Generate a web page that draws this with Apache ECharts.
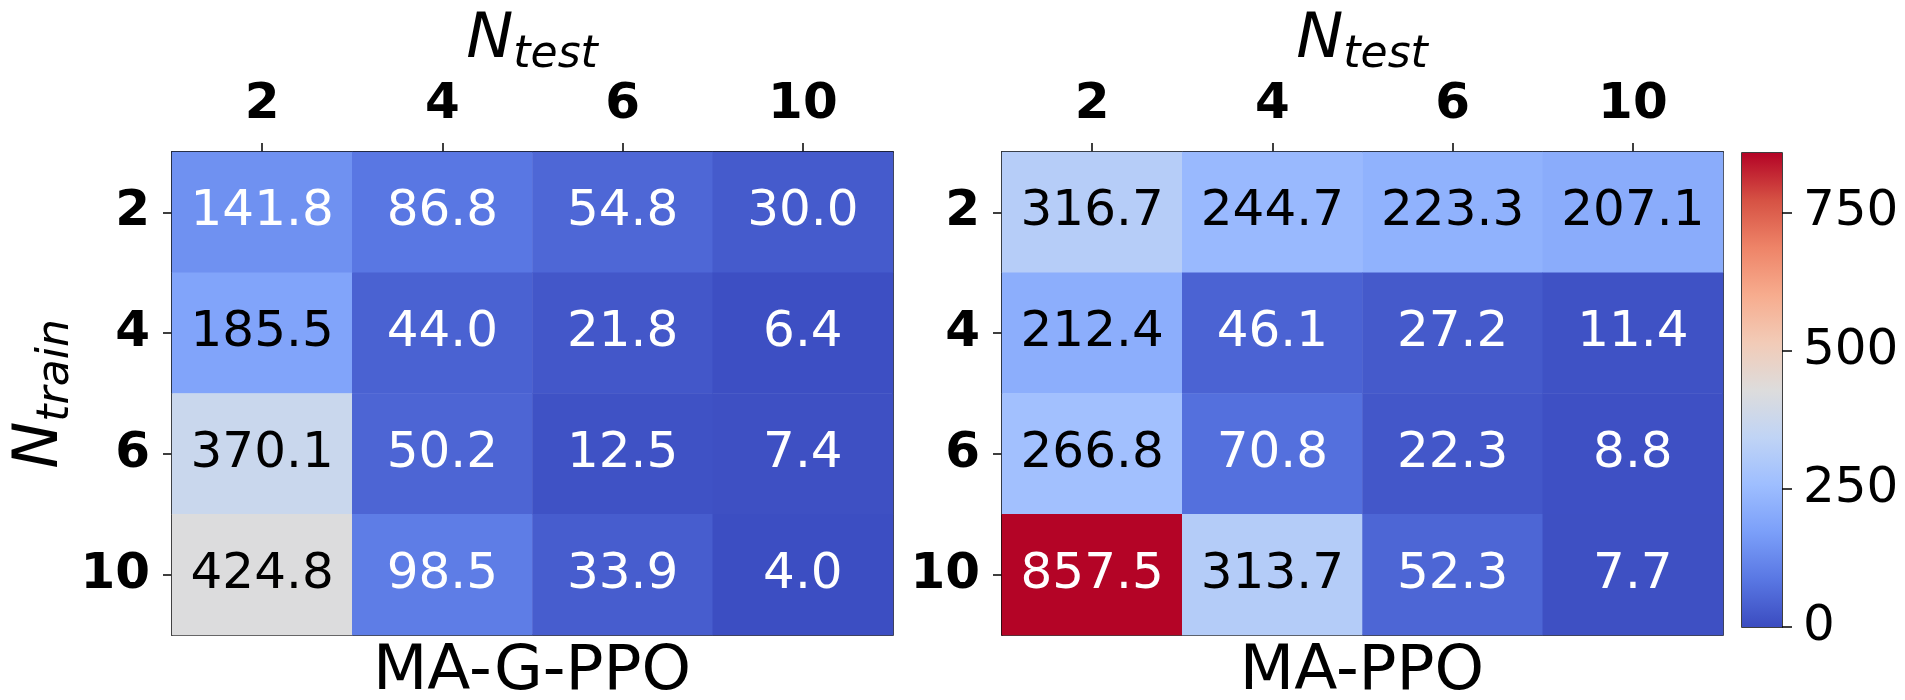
<!DOCTYPE html>
<html>
<head>
<meta charset="utf-8">
<script src="https://cdn.jsdelivr.net/npm/echarts@6/dist/echarts.min.js"></script>
<style>
  html, body { margin: 0; padding: 0; background: #ffffff; }
  #chart { width: 1905px; height: 700px; }
</style>
</head>
<body>
<div id="chart"></div>
<script>
// ---- data ----
const nTest = ['2', '4', '6', '10'];
const nTrain = ['2', '4', '6', '10'];
const maGPPO = [
  [141.8, 86.8, 54.8, 30.0],
  [185.5, 44.0, 21.8, 6.4],
  [370.1, 50.2, 12.5, 7.4],
  [424.8, 98.5, 33.9, 4.0]
];
const maPPO = [
  [316.7, 244.7, 223.3, 207.1],
  [212.4, 46.1, 27.2, 11.4],
  [266.8, 70.8, 22.3, 8.8],
  [857.5, 313.7, 52.3, 7.7]
];
const panelTitles = ['MA-G-PPO', 'MA-PPO'];
const colorbarTicks = [0, 250, 500, 750];
const vMin = 0;
const vMax = 857.5;

// ---- style ----
const coolwarm = ['#3b4cc0', '#5977e3', '#7b9ff9', '#9ebeff', '#c0d4f5', '#dddcdc',
                  '#f2cbb7', '#f7ac8e', '#ee8468', '#d65244', '#b40426'];
const FONT = 'DejaVu Sans';

function hexToRgb(h) {
  return [parseInt(h.slice(1, 3), 16), parseInt(h.slice(3, 5), 16), parseInt(h.slice(5, 7), 16)];
}
function cmap(v) {
  let t = (v - vMin) / (vMax - vMin);
  t = Math.max(0, Math.min(1, t));
  const p = t * (coolwarm.length - 1);
  const i = Math.min(Math.floor(p), coolwarm.length - 2);
  const f = p - i;
  const a = hexToRgb(coolwarm[i]), b = hexToRgb(coolwarm[i + 1]);
  return a.map((c, k) => c + (b[k] - c) * f);
}
function lum(rgb) {
  const l = rgb.map(c => {
    c = c / 255;
    return c <= 0.03928 ? c / 12.92 : Math.pow((c + 0.055) / 1.055, 2.4);
  });
  return 0.2126 * l[0] + 0.7152 * l[1] + 0.0722 * l[2];
}
function buildData(mat) {
  const out = [];
  mat.forEach((row, yi) => row.forEach((v, xi) => {
    out.push({
      value: [xi, yi, v],
      label: { color: lum(cmap(v)) > 0.34 ? '#000000' : '#ffffff' }
    });
  }));
  return out;
}

const grids = [
  { left: 172, top: 152, width: 721, height: 483 },
  { left: 1002, top: 152, width: 721, height: 483 },
  { left: 1742, top: 153, width: 40, height: 474 }
];
grids.forEach(g => { g.show = true; g.borderColor = '#000'; g.borderWidth = 1.5; g.backgroundColor = 'transparent'; });

const tickStyle = { show: true, length: 9, lineStyle: { color: '#000', width: 1.5 } };
const boldLabel = { fontSize: 50, fontWeight: 'bold', fontFamily: FONT, color: '#000' };

function heatX(i) {
  return {
    type: 'category', gridIndex: i, position: 'top', data: nTest,
    axisLine: { show: true, lineStyle: { color: '#000', width: 1.5 } },
    axisTick: Object.assign({ alignWithLabel: true }, tickStyle),
    axisLabel: Object.assign({ margin: 22 }, boldLabel),
    splitLine: { show: false }, splitArea: { show: false }
  };
}
function heatY(i) {
  return {
    type: 'category', gridIndex: i, inverse: true, data: nTrain,
    axisLine: { show: true, lineStyle: { color: '#000', width: 1.5 } },
    axisTick: Object.assign({ alignWithLabel: true }, tickStyle),
    axisLabel: Object.assign({ margin: 22 }, boldLabel),
    splitLine: { show: false }, splitArea: { show: false }
  };
}

const cbStops = coolwarm.map((c, i) => ({ offset: i / (coolwarm.length - 1), color: c }));

const labelCommon = {
  show: true, fontSize: 50, fontFamily: FONT,
  formatter: p => p.value[2].toFixed(1)
};

const richN = {
  n: { fontSize: 63, fontStyle: 'italic', fontFamily: FONT, fill: '#000', verticalAlign: 'bottom', padding: [0, 0, 6, 0] },
  s: { fontSize: 44, fontStyle: 'italic', fontFamily: FONT, fill: '#000', verticalAlign: 'bottom' }
};

const option = {
  animation: false,
  backgroundColor: '#ffffff',
  grid: grids,
  xAxis: [
    heatX(0), heatX(1),
    { type: 'category', gridIndex: 2, data: ['cb'], show: false }
  ],
  yAxis: [
    heatY(0), heatY(1),
    {
      type: 'value', gridIndex: 2, position: 'right', min: vMin, max: vMax, interval: 250,
      axisLine: { show: false },
      axisTick: { show: true, length: 10, customValues: colorbarTicks, lineStyle: { color: '#000', width: 1.5 } },
      axisLabel: { margin: 21, fontSize: 50, fontFamily: FONT, color: '#000', customValues: colorbarTicks },
      splitLine: { show: false }
    }
  ],
  visualMap: {
    show: false, type: 'continuous', min: vMin, max: vMax, seriesIndex: [0, 1],
    inRange: { color: coolwarm }
  },
  series: [
    { type: 'heatmap', xAxisIndex: 0, yAxisIndex: 0, data: buildData(maGPPO), label: labelCommon, itemStyle: { borderWidth: 0 } },
    { type: 'heatmap', xAxisIndex: 1, yAxisIndex: 1, data: buildData(maPPO), label: labelCommon, itemStyle: { borderWidth: 0 } },
    {
      type: 'bar', xAxisIndex: 2, yAxisIndex: 2, data: [vMax], barWidth: '100%', silent: true,
      itemStyle: { color: new echarts.graphic.LinearGradient(0, 1, 0, 0, cbStops) }
    }
  ],
  graphic: [
    { type: 'text', x: 532, y: 78, style: { text: '{n|N}{s|test}', rich: richN, align: 'center', verticalAlign: 'bottom' } },
    { type: 'text', x: 1362, y: 78, style: { text: '{n|N}{s|test}', rich: richN, align: 'center', verticalAlign: 'bottom' } },
    { type: 'text', x: 44, y: 394, rotation: Math.PI / 2, style: { text: '{n|N}{s|train}', rich: richN, align: 'center', verticalAlign: 'middle' } },
    { type: 'text', x: 532, y: 673, style: { text: panelTitles[0], fontSize: 63, fontFamily: FONT, fill: '#000', align: 'center', verticalAlign: 'middle' } },
    { type: 'text', x: 1362, y: 673, style: { text: panelTitles[1], fontSize: 63, fontFamily: FONT, fill: '#000', align: 'center', verticalAlign: 'middle' } }
  ]
};

const chart = echarts.init(document.getElementById('chart'), null, { renderer: 'canvas' });
chart.setOption(option);
</script>
</body>
</html>
